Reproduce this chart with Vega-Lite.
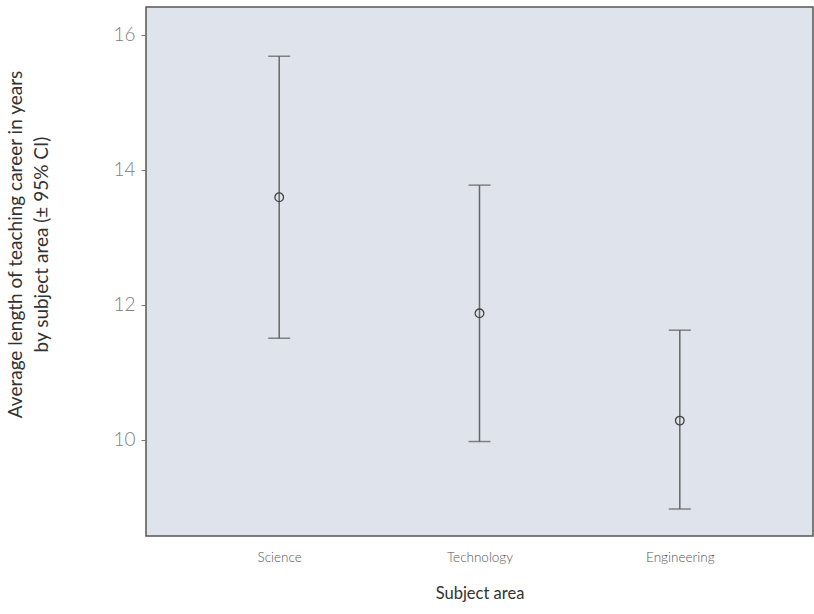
{
  "$schema": "https://vega.github.io/schema/vega-lite/v6.json",
  "width": 667,
  "height": 529,
  "autosize": {"type": "none"},
  "padding": {"left": 146, "top": 7, "right": 1, "bottom": 78},
  "background": "white",
  "config": {
    "view": {"fill": "#dfe4ec", "stroke": "#555555", "strokeWidth": 1.5},
    "font": "Lato"
  },
  "data": {
    "values": [
      {"subject": "Science", "mean": 13.59, "lower": 11.50, "upper": 15.68},
      {"subject": "Technology", "mean": 11.87, "lower": 9.97, "upper": 13.77},
      {"subject": "Engineering", "mean": 10.28, "lower": 8.97, "upper": 11.62}
    ]
  },
  "encoding": {
    "x": {
      "field": "subject",
      "type": "nominal",
      "sort": ["Science", "Technology", "Engineering"],
      "scale": {"type": "point", "padding": 0.665},
      "axis": {
        "title": "Subject area",
        "labelAngle": 0,
        "ticks": false,
        "domain": false,
        "labelFontSize": 13.5,
        "labelFontWeight": 300,
        "labelColor": "#555555",
        "labelPadding": 14,
        "titleFontSize": 16.5,
        "titleFontWeight": "normal",
        "titleColor": "#333333",
        "titlePadding": 22
      }
    }
  },
  "layer": [
    {
      "mark": {"type": "rule", "color": "#666666", "strokeWidth": 1.5},
      "encoding": {
        "y": {
          "field": "lower",
          "type": "quantitative",
          "scale": {"domain": [8.57, 16.41], "nice": false, "zero": false},
          "axis": {
            "title": ["Average length of teaching career in years", "by subject area (± 95% CI)"],
            "values": [10, 12, 14, 16],
            "format": "d",
            "grid": false,
            "domain": false,
            "tickColor": "#777777",
            "tickSize": 5,
            "labelFontSize": 19,
            "labelFontWeight": 300,
            "labelColor": "#808080",
            "labelPadding": 6,
            "titleFontSize": 19,
            "titleFontWeight": "normal",
            "titleColor": "#333333",
            "titleX": -121,
            "titleY": 237,
            "titleLineHeight": 26
          }
        },
        "y2": {"field": "upper"}
      }
    },
    {
      "mark": {"type": "tick", "color": "#555555", "size": 22, "thickness": 1.5},
      "encoding": {"y": {"field": "lower", "type": "quantitative"}}
    },
    {
      "mark": {"type": "tick", "color": "#555555", "size": 22, "thickness": 1.5},
      "encoding": {"y": {"field": "upper", "type": "quantitative"}}
    },
    {
      "mark": {"type": "point", "shape": "circle", "filled": false, "size": 75, "color": "#444444", "strokeWidth": 1.3, "opacity": 1},
      "encoding": {"y": {"field": "mean", "type": "quantitative"}}
    }
  ]
}
